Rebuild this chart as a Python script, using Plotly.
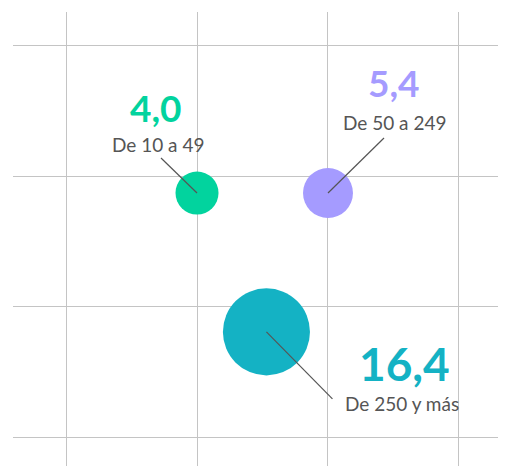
import plotly.graph_objects as go

# tamaño de empresa
labels = ["De 10 a 49", "De 50 a 249", "De 250 y más"]
values = [4.0, 5.4, 16.4]
value_text = ["4,0", "5,4", "16,4"]
pos_x = [1.0, 2.0, 1.53]
pos_y = [1.87, 1.87, 0.81]
colors = ["#02d39e", "#a59bff", "#14b2c4"]

# label placement (pixel offsets from bubble centre)
line_end = [(-36, 35), (56, 55), (66, -67)]
label_off = [(-39, 49), (67, 71), (136, -72)]
value_off = [(-41, 86), (66, 111), (138, -32)]
value_size = [37, 37, 46]

fig = go.Figure()

fig.add_trace(
    go.Scatter(
        x=pos_x,
        y=pos_y,
        mode="markers",
        marker=dict(
            size=values,
            sizemode="area",
            sizeref=2 / 21.5 ** 2,
            color=colors,
            opacity=1,
            line=dict(width=0),
        ),
        hoverinfo="skip",
        showlegend=False,
    )
)

for i in range(len(values)):
    fig.add_shape(
        type="line",
        xref="x", yref="y",
        xsizemode="pixel", ysizemode="pixel",
        xanchor=pos_x[i], yanchor=pos_y[i],
        x0=0, y0=0, x1=line_end[i][0], y1=line_end[i][1],
        line=dict(color="#555555", width=1.2),
    )
    fig.add_annotation(
        x=pos_x[i], y=pos_y[i],
        xshift=label_off[i][0], yshift=label_off[i][1],
        text=labels[i],
        showarrow=False,
        xanchor="center", yanchor="middle",
        font=dict(family="Lato", size=19, color="#555555"),
    )
    fig.add_annotation(
        x=pos_x[i], y=pos_y[i],
        xshift=value_off[i][0], yshift=value_off[i][1],
        text="<b>" + value_text[i] + "</b>",
        showarrow=False,
        xanchor="center", yanchor="middle",
        font=dict(family="Lato", size=value_size[i], color=colors[i]),
    )

fig.update_xaxes(
    range=[-0.405, 3.405],
    tickvals=[0, 1, 2, 3],
    showticklabels=False,
    showgrid=True,
    gridcolor="#c4c4c4",
    gridwidth=1,
    zeroline=False,
    showline=False,
)
fig.update_yaxes(
    range=[-0.275, 3.252],
    tickvals=[0, 1, 2, 3],
    showticklabels=False,
    showgrid=True,
    gridcolor="#c4c4c4",
    gridwidth=1,
    zeroline=False,
    showline=False,
)

fig.update_layout(
    width=506,
    height=466,
    margin=dict(l=5, r=2, t=4, b=0),
    plot_bgcolor="white",
    paper_bgcolor="white",
    template="plotly_white",
)

fig.write_html("out.html")
